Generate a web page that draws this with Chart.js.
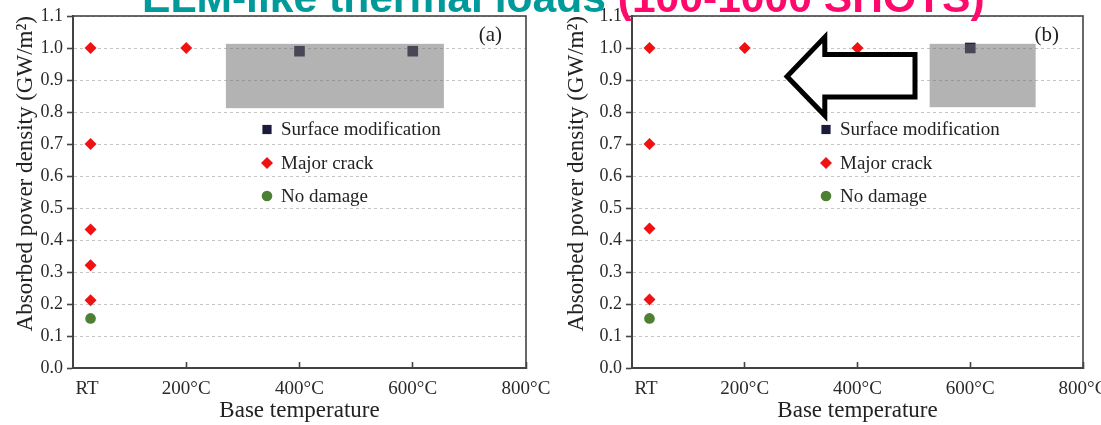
<!DOCTYPE html>
<html><head><meta charset="utf-8">
<script src="https://cdn.jsdelivr.net/npm/chart.js@4/dist/chart.umd.min.js"></script>
<style>
html,body{margin:0;padding:0;background:#fff;width:1101px;height:425px;overflow:hidden;position:relative}
canvas{position:absolute;top:0}
#ca{left:0}
#cb{left:550px}
#title{position:absolute;left:142px;top:-23.6px;font:bold 42.6px 'Liberation Sans',Arial,sans-serif;line-height:1;white-space:nowrap;z-index:5}
</style></head><body>
<canvas id="ca" width="550" height="425"></canvas>
<canvas id="cb" width="551" height="425"></canvas>
<div id="title"><span id="t1" style="color:#009a9a"></span><span id="t2" style="color:#ff0a6c"></span></div>
<script>
// ---- texts ----
const titleMain = 'ELM-like thermal loads ';
const titleShots = '(100-1000 SHOTS)';
const xTitle = 'Base temperature';
const yTitle = 'Absorbed power density (GW/m²)';
const seriesNames = ['Surface modification', 'Major crack', 'No damage'];
const panelLabels = ['(a)', '(b)'];

// ---- ticks ----
const xTickValues = [25, 200, 400, 600, 800];
const xTickLabels = ['RT', '200°C', '400°C', '600°C', '800°C'];
const yTickValues = [0.0, 0.1, 0.2, 0.3, 0.4, 0.5, 0.6, 0.7, 0.8, 0.9, 1.0, 1.1];

// ---- panel (a) data ----
const aSurfaceX = [400, 600];
const aSurfaceY = [0.99, 0.99];
const aCrackX = [31, 31, 31, 31, 31, 200];
const aCrackY = [1.0, 0.70, 0.433, 0.321, 0.212, 1.0];
const aNoDamageX = [31];
const aNoDamageY = [0.155];

// ---- panel (b) data ----
const bSurfaceX = [600];
const bSurfaceY = [1.0];
const bCrackX = [31, 31, 31, 31, 200, 400];
const bCrackY = [1.0, 0.70, 0.436, 0.214, 1.0, 1.0];
const bNoDamageX = [31];
const bNoDamageY = [0.155];

document.getElementById('t1').textContent = titleMain;
document.getElementById('t2').textContent = titleShots;

const SERIF = "'Liberation Serif','Times New Roman',serif";
const colSurface = '#1b1b3b';
const colCrack = '#f01212';
const colNoDamage = '#4d8033';
const styles = [
  {pointStyle: 'rect', radius: 6.5, color: colSurface},
  {pointStyle: 'rectRot', radius: 6, color: colCrack},
  {pointStyle: 'circle', radius: 5.3, color: colNoDamage}
];

function pts(xs, ys) { return xs.map((x, i) => ({x: x, y: ys[i]})); }

function overlayPlugin(opts) {
  return {
    id: 'overlay' + opts.label,
    afterDatasetsDraw(chart) {
      const {ctx, chartArea: a, scales: {x, y}} = chart;
      ctx.save();
      // grey cover box (data coordinates)
      const c = opts.cover;
      const x0 = x.getPixelForValue(c.x0), x1 = x.getPixelForValue(c.x1);
      const y0 = y.getPixelForValue(c.y1), y1 = y.getPixelForValue(c.y0);
      ctx.fillStyle = 'rgba(112,112,112,0.53)';
      ctx.fillRect(x0, y0, x1 - x0, y1 - y0);
      // arrow
      if (opts.arrow) {
        const r = opts.arrow;
        const P = (vx, vy) => [x.getPixelForValue(vx), y.getPixelForValue(vy)];
        const path = [
          P(r.tipX, r.tipY), P(r.headX, r.headTop), P(r.headX, r.shaftTop),
          P(r.tailX, r.shaftTop), P(r.tailX, r.shaftBottom), P(r.headX, r.shaftBottom),
          P(r.headX, r.headBottom)
        ];
        ctx.beginPath();
        ctx.moveTo(path[0][0], path[0][1]);
        for (let i = 1; i < path.length; i++) ctx.lineTo(path[i][0], path[i][1]);
        ctx.closePath();
        ctx.fillStyle = '#fff';
        ctx.fill();
        ctx.lineWidth = 5;
        ctx.lineJoin = 'miter';
        ctx.strokeStyle = '#000';
        ctx.stroke();
      }
      // legend
      const lx = a.left + 194;
      const rows = [a.top + 113.5, a.top + 147, a.top + 180];
      ctx.font = '19px ' + SERIF;
      ctx.textBaseline = 'middle';
      ctx.textAlign = 'left';
      rows.forEach((ry, i) => {
        const s = styles[i];
        ctx.fillStyle = s.color;
        Chart.helpers.drawPoint(ctx, {pointStyle: s.pointStyle, radius: s.radius, borderWidth: 0, rotation: 0}, lx, ry);
        ctx.fillStyle = '#222';
        ctx.fillText(seriesNames[i], lx + 14, ry + 1);
      });
      // panel label
      ctx.font = '21px ' + SERIF;
      ctx.textAlign = 'right';
      ctx.fillStyle = '#222';
      ctx.fillText(opts.label, a.right - 24, a.top + 19);
      ctx.restore();
    },
    afterDraw(chart) {
      const {ctx, chartArea: a} = chart;
      ctx.save();
      ctx.strokeStyle = '#444';
      ctx.lineWidth = 1.6;
      ctx.strokeRect(a.left, a.top, a.right - a.left, a.bottom - a.top);
      ctx.restore();
    }
  };
}

function makeChart(id, d, yWidth, rightPad, titlePad, overlay) {
  return new Chart(document.getElementById(id), {
    type: 'scatter',
    data: {
      datasets: [
        {label: seriesNames[0], data: pts(d.sx, d.sy), pointStyle: 'rect', pointRadius: 7.5, backgroundColor: colSurface, borderWidth: 0},
        {label: seriesNames[1], data: pts(d.cx, d.cy), pointStyle: 'rectRot', pointRadius: 6, backgroundColor: colCrack, borderWidth: 0},
        {label: seriesNames[2], data: pts(d.nx, d.ny), pointStyle: 'circle', pointRadius: 5.3, backgroundColor: colNoDamage, borderWidth: 0}
      ]
    },
    options: {
      responsive: false,
      animation: false,
      events: [],
      layout: {padding: {left: 0, right: rightPad, top: 16, bottom: 0}},
      plugins: {legend: {display: false}, tooltip: {enabled: false}},
      scales: {
        x: {
          type: 'linear', min: 0, max: 800,
          afterBuildTicks: s => { s.ticks = xTickValues.map(v => ({value: v})); },
          afterFit: s => { s.height = 57; s.paddingLeft = 0; s.paddingRight = 0; },
          ticks: {
            autoSkip: false, maxRotation: 0, minRotation: 0,
            callback: (v, i) => xTickLabels[i],
            font: {family: SERIF, size: 19}, color: '#2a2a2a', padding: 16
          },
          grid: {
            drawOnChartArea: false, tickLength: -6, tickWidth: 1.6,
            tickColor: c => (c.tick && c.tick.value === xTickValues[0]) ? 'rgba(0,0,0,0)' : '#444'
          },
          border: {color: '#444', width: 2},
          title: {display: true, text: xTitle, font: {family: SERIF, size: 23}, color: '#222', padding: {top: 0, bottom: 0}}
        },
        y: {
          type: 'linear', min: 0, max: 1.1,
          afterBuildTicks: s => { s.ticks = yTickValues.map(v => ({value: v})); },
          afterFit: s => { s.width = yWidth; s.paddingTop = 0; s.paddingBottom = 0; },
          ticks: {callback: v => Number(v).toFixed(1), font: {family: SERIF, size: 18}, color: '#2a2a2a', padding: 4},
          grid: {color: '#c4c4c4', lineWidth: 1, tickLength: 6, tickColor: '#444', tickWidth: 1.6, tickBorderDash: []},
          border: {color: '#444', width: 2, dash: [3, 3]},
          title: {display: true, text: yTitle, align: 'end', font: {family: SERIF, size: 23}, color: '#222', padding: {top: titlePad, bottom: 0}}
        }
      }
    },
    plugins: [overlayPlugin(overlay)]
  });
}

makeChart('ca',
  {sx: aSurfaceX, sy: aSurfaceY, cx: aCrackX, cy: aCrackY, nx: aNoDamageX, ny: aNoDamageY},
  73, 24, 12,
  {label: panelLabels[0], cover: {x0: 270, x1: 655, y0: 0.812, y1: 1.013}});

makeChart('cb',
  {sx: bSurfaceX, sy: bSurfaceY, cx: bCrackX, cy: bCrackY, nx: bNoDamageX, ny: bNoDamageY},
  82, 18, 13,
  {label: panelLabels[1], cover: {x0: 528, x1: 716, y0: 0.815, y1: 1.013},
   arrow: {tipX: 275, tipY: 0.911, headX: 342, headTop: 1.034, headBottom: 0.789, shaftTop: 0.980, shaftBottom: 0.847, tailX: 502}});
</script>
</body></html>
